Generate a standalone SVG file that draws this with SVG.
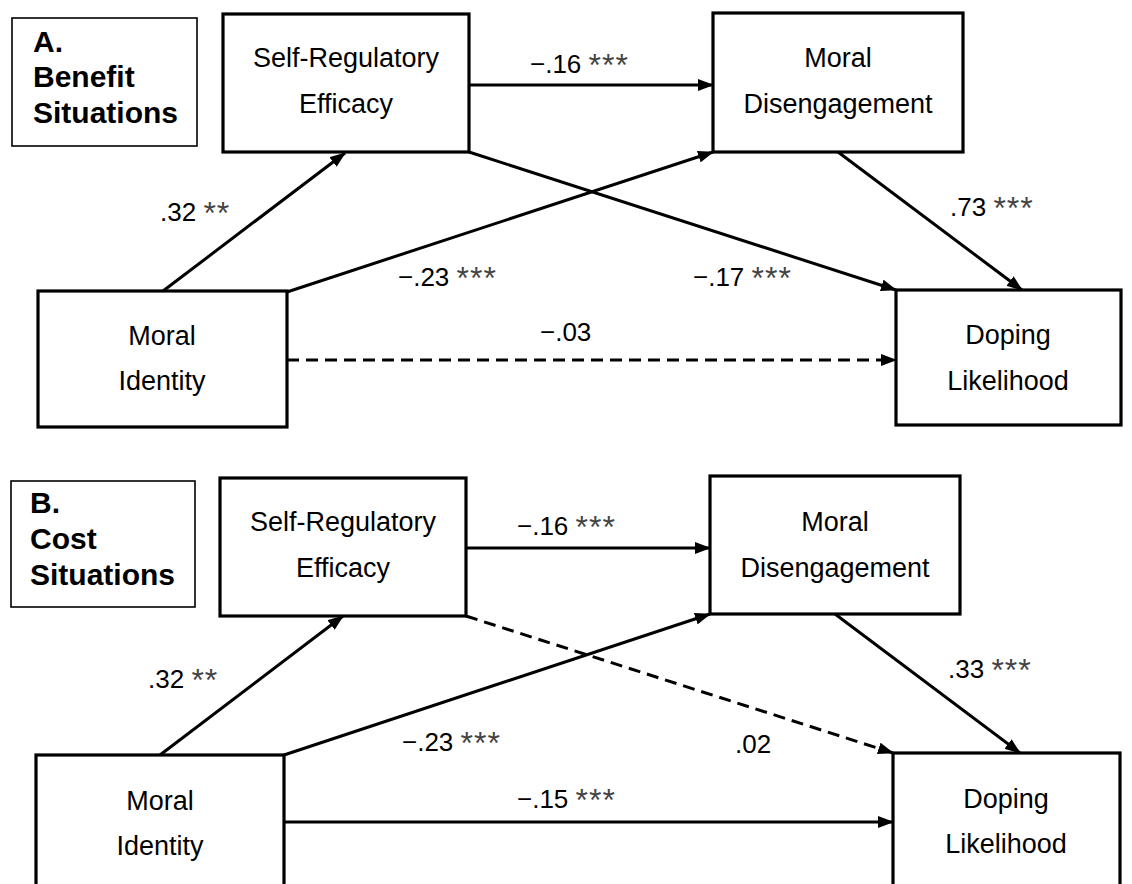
<svg xmlns="http://www.w3.org/2000/svg" width="1132" height="884" viewBox="0 0 1132 884">
<defs>
<style>
.box{fill:#fff;stroke:#000;stroke-width:3.2}
.lbox{fill:#fff;stroke:#000;stroke-width:1.6}
.t{font-family:"Liberation Sans",Arial,sans-serif;font-size:27px;fill:#000;text-anchor:middle}
.h{font-family:"Liberation Sans",Arial,sans-serif;font-size:30px;font-weight:bold;fill:#000}
.n{font-family:"Liberation Sans",Arial,sans-serif;font-size:26px;fill:#000}
.s{font-size:32px;fill:#444;letter-spacing:1px}
.c{stroke:#000;stroke-width:3;fill:none}
.d{stroke-dasharray:12 7}
</style>
<marker id="ah" viewBox="0 0 16 12" refX="15" refY="6" markerWidth="16" markerHeight="12" markerUnits="userSpaceOnUse" orient="auto">
<path d="M0,0 L16,6 L0,12 z" fill="#000"/>
</marker>
</defs>
<rect width="1132" height="884" fill="#fff"/>

<g id="connectors">
<line class="c" x1="469" y1="85" x2="713" y2="85" marker-end="url(#ah)"/>
<line class="c" x1="163" y1="291" x2="345" y2="153" marker-end="url(#ah)"/>
<line class="c" x1="287" y1="292" x2="713" y2="152" marker-end="url(#ah)"/>
<line class="c" x1="469" y1="152" x2="896" y2="290" marker-end="url(#ah)"/>
<line class="c" x1="838" y1="152" x2="1022" y2="290" marker-end="url(#ah)"/>
<line class="c d" x1="287" y1="360" x2="896" y2="360" marker-end="url(#ah)"/>

<line class="c" x1="466" y1="548" x2="710" y2="548" marker-end="url(#ah)"/>
<line class="c" x1="160" y1="755" x2="343" y2="616" marker-end="url(#ah)"/>
<line class="c" x1="284" y1="755" x2="710" y2="614" marker-end="url(#ah)"/>
<line class="c d" x1="466" y1="616" x2="893" y2="753" marker-end="url(#ah)"/>
<line class="c" x1="835" y1="614" x2="1020" y2="753" marker-end="url(#ah)"/>
<line class="c" x1="284" y1="822" x2="893" y2="822" marker-end="url(#ah)"/>
</g>

<g id="edge-labels">
<text class="n" x="160" y="221">.32 <tspan class="s" dy="3">**</tspan></text>
<text class="n" x="530" y="73">−.16 <tspan class="s" dy="3">***</tspan></text>
<text class="n" x="950" y="216">.73 <tspan class="s" dy="3">***</tspan></text>
<text class="n" x="398" y="286">−.23 <tspan class="s" dy="3">***</tspan></text>
<text class="n" x="693" y="286">−.17 <tspan class="s" dy="3">***</tspan></text>
<text class="n" x="540" y="341">−.03</text>

<text class="n" x="148" y="688">.32 <tspan class="s" dy="3">**</tspan></text>
<text class="n" x="517" y="535">−.16 <tspan class="s" dy="3">***</tspan></text>
<text class="n" x="948" y="678">.33 <tspan class="s" dy="3">***</tspan></text>
<text class="n" x="402" y="751">−.23 <tspan class="s" dy="3">***</tspan></text>
<text class="n" x="735" y="753">.02</text>
<text class="n" x="517" y="808">−.15 <tspan class="s" dy="3">***</tspan></text>
</g>

<g id="label-A">
<rect class="lbox" x="12" y="18" width="185" height="128"/>
<text class="h" x="33" y="52">A.</text>
<text class="h" x="33" y="87">Benefit</text>
<text class="h" x="33" y="123">Situations</text>
</g>
<g id="sre-A">
<rect class="box" x="223" y="14" width="246" height="138"/>
<text class="t" x="346" y="67">Self-Regulatory</text>
<text class="t" x="346" y="113">Efficacy</text>
</g>
<g id="md-A">
<rect class="box" x="713" y="13" width="250" height="139"/>
<text class="t" x="838" y="67">Moral</text>
<text class="t" x="838" y="113">Disengagement</text>
</g>
<g id="mi-A">
<rect class="box" x="38" y="291" width="249" height="136"/>
<text class="t" x="162" y="345">Moral</text>
<text class="t" x="162" y="390">Identity</text>
</g>
<g id="dl-A">
<rect class="box" x="896" y="290" width="225" height="135"/>
<text class="t" x="1008" y="344">Doping</text>
<text class="t" x="1008" y="390">Likelihood</text>
</g>

<g id="label-B">
<rect class="lbox" x="11" y="481" width="184" height="126"/>
<text class="h" x="30" y="513">B.</text>
<text class="h" x="30" y="549">Cost</text>
<text class="h" x="30" y="585">Situations</text>
</g>
<g id="sre-B">
<rect class="box" x="220" y="478" width="246" height="138"/>
<text class="t" x="343" y="531">Self-Regulatory</text>
<text class="t" x="343" y="577">Efficacy</text>
</g>
<g id="md-B">
<rect class="box" x="710" y="476" width="250" height="138"/>
<text class="t" x="835" y="531">Moral</text>
<text class="t" x="835" y="577">Disengagement</text>
</g>
<g id="mi-B">
<rect class="box" x="36" y="755" width="248" height="140"/>
<text class="t" x="160" y="810">Moral</text>
<text class="t" x="160" y="855">Identity</text>
</g>
<g id="dl-B">
<rect class="box" x="893" y="753" width="227" height="140"/>
<text class="t" x="1006" y="808">Doping</text>
<text class="t" x="1006" y="853">Likelihood</text>
</g>
</svg>
